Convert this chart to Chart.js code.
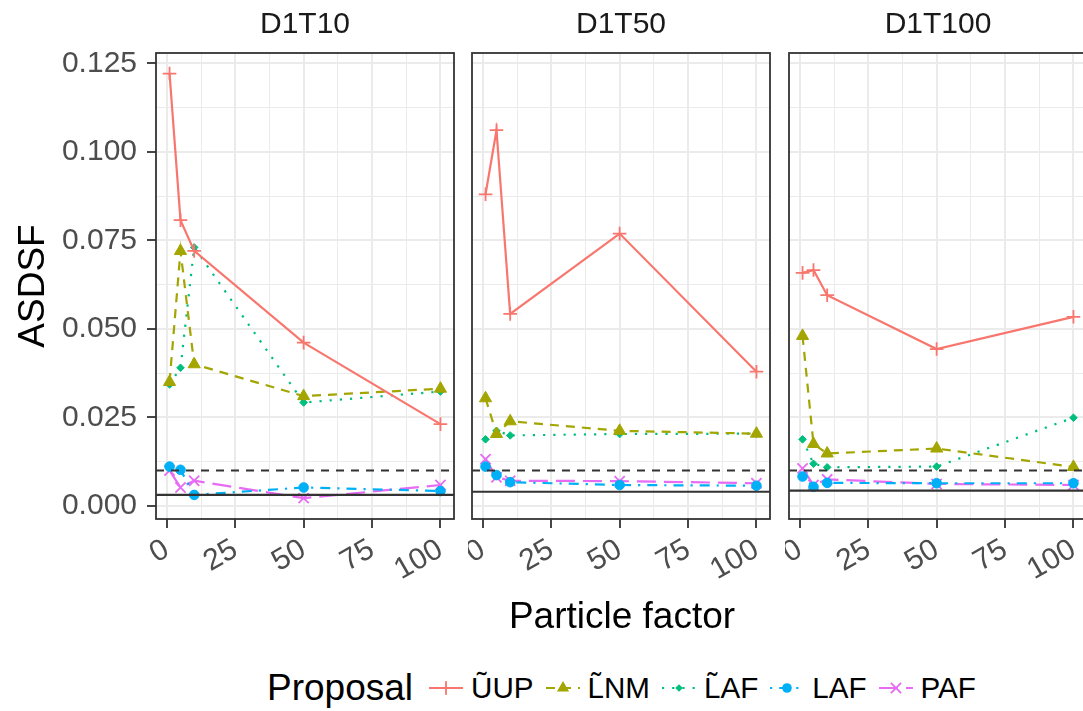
<!DOCTYPE html>
<html>
<head>
<meta charset="utf-8">
<script src="https://cdn.jsdelivr.net/npm/chart.js@4/dist/chart.umd.min.js"></script>
<style>
  html, body { margin: 0; padding: 0; background: #fff; width: 1083px; height: 711px; overflow: hidden; }
  #wrap { position: relative; width: 1083px; height: 711px; overflow: hidden; font-family: "Liberation Sans", Arial, sans-serif; }
  canvas.panel { position: absolute; top: 0; }
  #xtitle { position: absolute; left: 622px; top: 597px; transform: translateX(-50%); font-size: 37px; line-height: 37px; color: #000; white-space: nowrap; }
  #legend { position: absolute; left: 267px; top: 665px; height: 46px; display: flex; align-items: center; white-space: nowrap; color: #000; }
  #legend .ltitle { font-size: 37px; margin-right: 16px; }
  #legend canvas { width: 34px; height: 36px; margin-right: 8px; }
  #legend .ltext { font-size: 29.6px; margin-right: 12px; }
</style>
</head>
<body>
<div id="wrap">
  <canvas class="panel" id="p0" width="458" height="600" style="left:0px"></canvas>
  <canvas class="panel" id="p1" width="306" height="600" style="left:468px"></canvas>
  <canvas class="panel" id="p2" width="306" height="600" style="left:785px"></canvas>
  <div id="xtitle">Particle factor</div>
  <div id="legend"></div>
</div>
<script>
// ---- data ----
const FACTORS = [1, 5, 10, 50, 100];
const PANELS = ['D1T10', 'D1T50', 'D1T100'];
const SERIES = ['ŨUP', 'L̃NM', 'L̃AF', 'LAF', 'PAF'];

// ASDSF per panel (D1T10, D1T50, D1T100), one entry per particle factor
const UP_VALUES = [
  [0.1221, 0.0807, 0.0720, 0.0461, 0.0231],
  [0.0880, 0.1061, 0.0542, 0.0769, 0.0379],
  [0.0658, 0.0666, 0.0595, 0.0443, 0.0534]
];
const NM_VALUES = [
  [0.0350, 0.0720, 0.0400, 0.0310, 0.0331],
  [0.0304, 0.0203, 0.0239, 0.0212, 0.0204],
  [0.0480, 0.0175, 0.0148, 0.0162, 0.0110]
];
const LAF_TILDE_VALUES = [
  [0.0343, 0.0390, 0.0730, 0.0292, 0.0323],
  [0.0188, 0.0212, 0.0199, 0.0203, 0.0204],
  [0.0188, 0.0119, 0.0109, 0.0111, 0.0249]
];
const LAF_VALUES = [
  [0.0111, 0.0102, 0.0031, 0.0052, 0.0042],
  [0.0111, 0.0087, 0.0067, 0.0059, 0.0057],
  [0.0083, 0.0054, 0.0065, 0.0064, 0.0064]
];
const PAF_VALUES = [
  [0.0100, 0.0052, 0.0071, 0.0022, 0.0059],
  [0.0132, 0.0081, 0.0071, 0.0070, 0.0064],
  [0.0106, 0.0059, 0.0075, 0.0062, 0.0059]
];
const VALUES = [UP_VALUES, NM_VALUES, LAF_TILDE_VALUES, LAF_VALUES, PAF_VALUES];

// reference levels drawn across each panel
const REF_DASHED = [0.010, 0.010, 0.010];
const REF_SOLID = [0.0031, 0.0040, 0.0043];

// axes
const X_TICKS = [0, 12.5, 25, 37.5, 50, 62.5, 75, 87.5, 100];
const Y_TICKS = [0, 0.0125, 0.025, 0.0375, 0.05, 0.0625, 0.075, 0.0875, 0.1, 0.1125, 0.125];
const X_MIN = -3.95, X_MAX = 104.95;
const Y_MIN = -0.0037, Y_MAX = 0.1279;

// ---- styles ----
const FONT = '"Liberation Sans", Arial, sans-serif';
const COLORS = ['#F8766D', '#A3A500', '#00BF7D', '#00B0F6', '#E76BF3'];
const DASHES = [[], [9, 7], [2.2, 8], [2.2, 7, 10, 7], [19, 8]];
const SHAPES = ['cross', 'triangle', 'rectRot', 'circle', 'crossRot'];
const RADII = [6.8, 7, 3.8, 4.8, 7.2];

Chart.defaults.font.family = FONT;

const isMajor = (v, step) => { const q = v / step; return Math.abs(q - Math.round(q)) < 1e-6; };

// facet strip label, centred over the panel
const strip = {
  id: 'strip',
  afterDraw(chart, args, opts) {
    const { ctx, chartArea: a } = chart;
    ctx.save();
    ctx.fillStyle = '#1A1A1A';
    ctx.font = '30px ' + FONT;
    ctx.textAlign = 'center';
    ctx.textBaseline = 'middle';
    ctx.fillText(opts.text, (a.left + a.right) / 2, a.top - 28);
    ctx.restore();
  }
};

const panelFrame = {
  id: 'panelFrame',
  afterDraw(chart) {
    const { ctx, chartArea: a } = chart;
    ctx.save();
    ctx.strokeStyle = '#333333';
    ctx.lineWidth = 1.8;
    ctx.strokeRect(a.left, a.top, a.right - a.left, a.bottom - a.top);
    ctx.restore();
  }
};

const refLines = {
  id: 'refLines',
  afterDatasetsDraw(chart, args, opts) {
    const { ctx, chartArea: a } = chart;
    const y = chart.scales.y;
    ctx.save();
    ctx.beginPath();
    ctx.rect(a.left, a.top, a.right - a.left, a.bottom - a.top);
    ctx.clip();
    ctx.strokeStyle = '#333333';
    ctx.lineWidth = 2.2;
    (opts.lines || []).forEach(l => {
      const py = y.getPixelForValue(l.value);
      ctx.setLineDash(l.dash);
      ctx.beginPath();
      ctx.moveTo(a.left, py);
      ctx.lineTo(a.right, py);
      ctx.stroke();
    });
    ctx.restore();
  }
};

function makePanel(i) {
  const first = i === 0;
  const datasets = SERIES.map((name, s) => ({
    label: name,
    data: FACTORS.map((f, k) => ({ x: f, y: VALUES[s][i][k] })),
    borderColor: COLORS[s],
    backgroundColor: COLORS[s],
    borderWidth: 2.2,
    borderDash: DASHES[s],
    pointStyle: SHAPES[s],
    pointRadius: RADII[s],
    pointBorderWidth: SHAPES[s].startsWith('cross') ? 1.8 : 1,
    pointBackgroundColor: COLORS[s],
    pointBorderColor: COLORS[s],
    tension: 0,
    fill: false
  }));

  new Chart(document.getElementById('p' + i), {
    type: 'line',
    data: { datasets },
    plugins: [refLines, panelFrame, strip],
    options: {
      responsive: false,
      animation: false,
      devicePixelRatio: 1,
      layout: { autoPadding: false, padding: { left: first ? 0 : 4, right: 4, top: 53, bottom: 0 } },
      plugins: {
        legend: { display: false },
        tooltip: { enabled: false },
        title: { display: false },
        strip: { text: PANELS[i] },
        refLines: {
          lines: [
            { value: REF_DASHED[i], dash: [8, 7] },
            { value: REF_SOLID[i], dash: [] }
          ]
        }
      },
      scales: {
        x: {
          type: 'linear', min: X_MIN, max: X_MAX,
          afterBuildTicks: s => { s.ticks = X_TICKS.map(v => ({ value: v })); },
          afterFit: s => { s.height = 81; s.paddingLeft = 0; s.paddingRight = 0; },
          border: { display: false },
          grid: {
            color: '#EBEBEB',
            lineWidth: c => (c.tick && isMajor(c.tick.value, 25)) ? 2 : 1,
            tickColor: c => (c.tick && isMajor(c.tick.value, 25)) ? '#333333' : 'rgba(0,0,0,0)',
            tickLength: 9,
            tickWidth: 1.8
          },
          ticks: {
            autoSkip: false, minRotation: 30, maxRotation: 30,
            color: '#4D4D4D', font: { family: FONT, size: 30 }, padding: 4,
            callback: v => isMajor(v, 25) ? String(v) : ''
          }
        },
        y: {
          type: 'linear', min: Y_MIN, max: Y_MAX,
          afterBuildTicks: s => { s.ticks = Y_TICKS.map(v => ({ value: v })); },
          afterFit: s => { s.width = first ? 156 : 0; s.paddingTop = 0; s.paddingBottom = 0; },
          border: { display: false },
          title: {
            display: first, text: 'ASDSF', color: '#000000',
            font: { family: FONT, size: 37, weight: 'normal' },
            padding: { top: 12, bottom: 0 }
          },
          grid: {
            color: '#EBEBEB',
            lineWidth: c => (c.tick && isMajor(c.tick.value, 0.025)) ? 2 : 1,
            tickColor: c => (c.tick && isMajor(c.tick.value, 0.025)) ? '#333333' : 'rgba(0,0,0,0)',
            drawTicks: first,
            tickLength: 9,
            tickWidth: 1.8
          },
          ticks: {
            display: first, autoSkip: false,
            color: '#4D4D4D', font: { family: FONT, size: 30 }, padding: 10,
            callback: v => isMajor(v, 0.025) ? v.toFixed(3) : ''
          }
        }
      }
    }
  });
}

PANELS.forEach((_, i) => makePanel(i));

// ---- legend keys ----
function drawKey(canvas, s) {
  const ctx = canvas.getContext('2d');
  const w = canvas.width, h = canvas.height, cx = w / 2, cy = h / 2;
  ctx.strokeStyle = COLORS[s];
  ctx.fillStyle = COLORS[s];
  ctx.lineWidth = 2.2;
  ctx.setLineDash(DASHES[s]);
  ctx.beginPath(); ctx.moveTo(0, cy); ctx.lineTo(w, cy); ctx.stroke();
  ctx.setLineDash([]);
  const r = RADII[s];
  ctx.beginPath();
  switch (SHAPES[s]) {
    case 'cross':
      ctx.lineWidth = 1.8;
      ctx.moveTo(cx - r, cy); ctx.lineTo(cx + r, cy);
      ctx.moveTo(cx, cy - r); ctx.lineTo(cx, cy + r);
      ctx.stroke(); break;
    case 'crossRot': {
      const d = r * Math.SQRT1_2; ctx.lineWidth = 1.8;
      ctx.moveTo(cx - d, cy - d); ctx.lineTo(cx + d, cy + d);
      ctx.moveTo(cx - d, cy + d); ctx.lineTo(cx + d, cy - d);
      ctx.stroke(); break;
    }
    case 'triangle':
      ctx.moveTo(cx, cy - r);
      ctx.lineTo(cx + r * Math.sin(2 * Math.PI / 3), cy - r * Math.cos(2 * Math.PI / 3));
      ctx.lineTo(cx + r * Math.sin(4 * Math.PI / 3), cy - r * Math.cos(4 * Math.PI / 3));
      ctx.closePath(); ctx.fill(); break;
    case 'rectRot':
      ctx.moveTo(cx - r, cy); ctx.lineTo(cx, cy - r); ctx.lineTo(cx + r, cy); ctx.lineTo(cx, cy + r);
      ctx.closePath(); ctx.fill(); break;
    default:
      ctx.arc(cx, cy, r, 0, Math.PI * 2); ctx.fill();
  }
}

const legend = document.getElementById('legend');
const title = document.createElement('span');
title.className = 'ltitle';
title.textContent = 'Proposal';
legend.appendChild(title);
SERIES.forEach((name, s) => {
  const c = document.createElement('canvas');
  c.width = 34; c.height = 36;
  legend.appendChild(c);
  drawKey(c, s);
  const t = document.createElement('span');
  t.className = 'ltext';
  t.textContent = name;
  legend.appendChild(t);
});
</script>
</body>
</html>
